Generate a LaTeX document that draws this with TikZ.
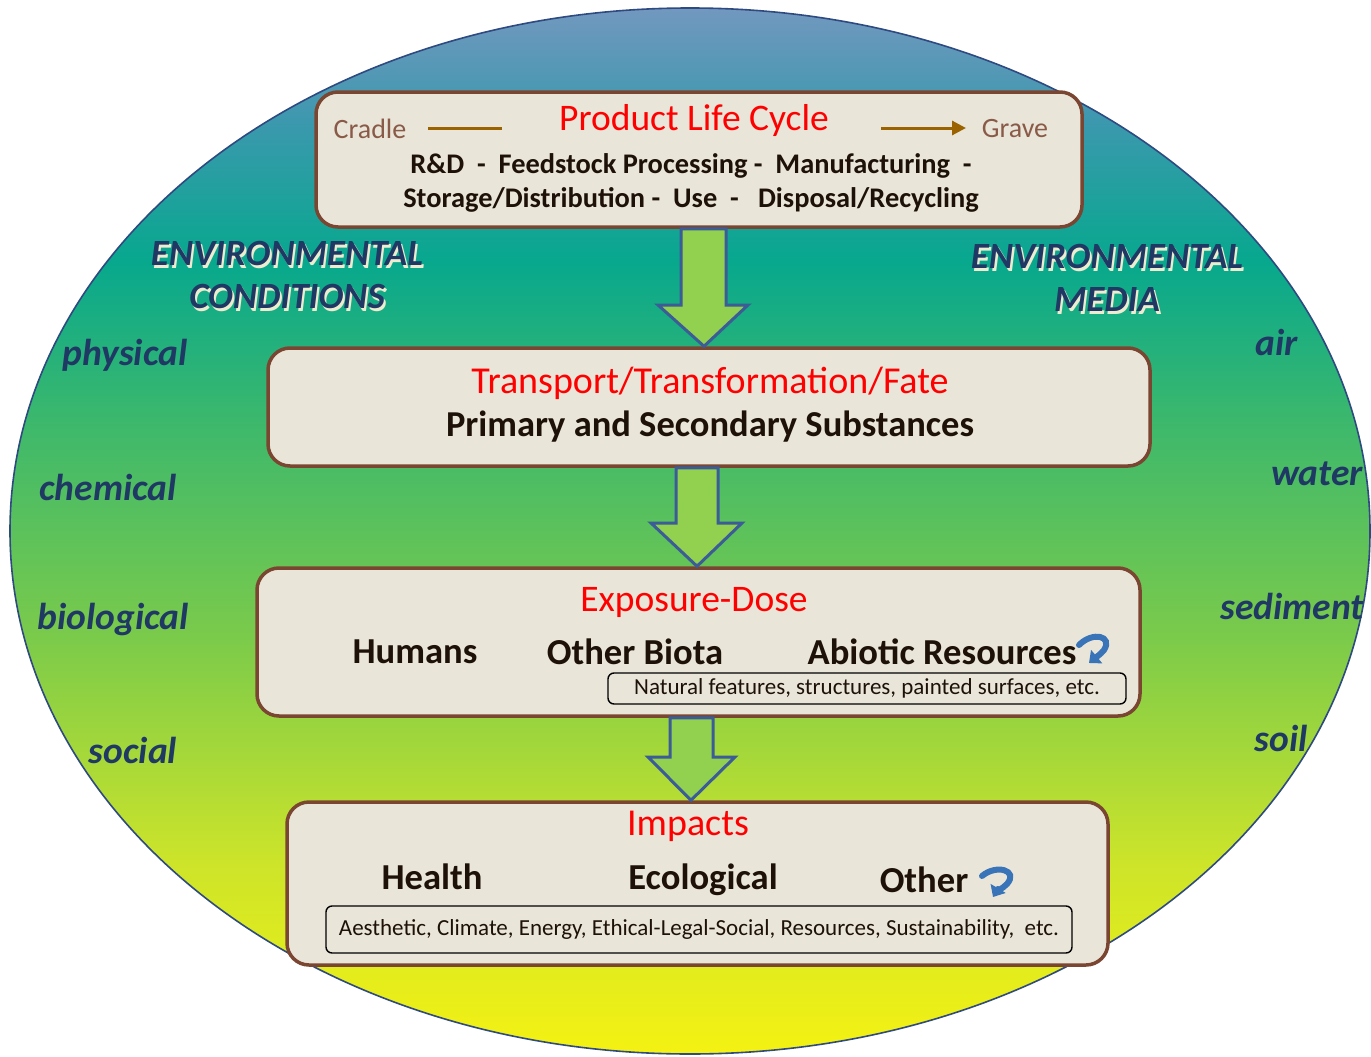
\documentclass[tikz,border=0pt]{standalone}
\usepackage{fontspec}
\setmainfont{Carlito}
\usetikzlibrary{arrows.meta,calc}

\definecolor{boxfill}{HTML}{E9E5D8}
\definecolor{boxbrown}{HTML}{7A4631}
\definecolor{arrowgreen}{HTML}{92D050}
\definecolor{arrowblue}{HTML}{3B5C96}
\definecolor{titlered}{HTML}{FF0000}
\definecolor{inkdark}{HTML}{1E1208}
\definecolor{endbrown}{HTML}{8A5A48}
\definecolor{cyclegold}{HTML}{9A6300}
\definecolor{navy}{HTML}{1F3864}
\definecolor{glow}{HTML}{EDEBD0}
\definecolor{curlblue}{HTML}{3A74B8}
\definecolor{rimblue}{HTML}{2E4A80}
\definecolor{gA}{HTML}{7698C0}
\definecolor{gB}{HTML}{3C98AE}
\definecolor{gC}{HTML}{07A88E}
\definecolor{gD}{HTML}{3CB86C}
\definecolor{gE}{HTML}{7CCB4A}
\definecolor{gF}{HTML}{CCE42A}
\definecolor{gG}{HTML}{F5F212}

\newcommand{\fs}[1]{\fontsize{#1}{#1}\selectfont}
% heading text with a pale offset copy underneath it
\newcommand{\glowtext}[1]{\makebox[0pt][l]{\hspace{2pt}\raisebox{-2.5pt}{\textcolor{glow}{#1}}}#1}

\tikzset{
  stage/.style={draw=boxbrown, line width=3.5pt, fill=boxfill, rounded corners=22pt},
  notebox/.style={draw=black, line width=1.4pt, rounded corners=6pt, fill=boxfill,
                  inner sep=0pt, font=\fs{23}, text=inkdark},
  bigarrow/.style={fill=arrowgreen, draw=arrowblue, line width=3pt, line join=miter},
  title/.style={text=titlered, font=\fs{37.5}},
  body/.style={text=inkdark, font=\bfseries\fs{28.4}},
  item/.style={text=inkdark, font=\bfseries\fs{36.6}},
  endlabel/.style={text=endbrown, font=\fs{28}},
  envhead/.style={text=navy, font=\bfseries\itshape\fs{37}},
  factor/.style={text=navy, font=\bfseries\itshape\fs{37.5}},
  curl/.style={draw=curlblue, line width=6pt, line cap=round,
               -{Triangle[width=17pt,length=10pt]}},
}

\begin{document}
\begin{tikzpicture}[x=1pt, y=-1pt]
\useasboundingbox (0,0) rectangle (1371,1057);

% graded background inside the ellipse
\begin{scope}
  \clip (690,531) ellipse [x radius=680, y radius=523];
  \shade[top color=gA, bottom color=gB] (0,0) rectangle (1371,121);
  \shade[top color=gB, bottom color=gC] (0,120) rectangle (1371,261);
  \shade[top color=gC, bottom color=gD] (0,260) rectangle (1371,421);
  \shade[top color=gD, bottom color=gE] (0,420) rectangle (1371,641);
  \shade[top color=gE, bottom color=gF] (0,640) rectangle (1371,861);
  \shade[top color=gF, bottom color=gG] (0,860) rectangle (1371,1057);
\end{scope}
\draw[rimblue, line width=1.6pt] (690,531) ellipse [x radius=680, y radius=523];

% stage boxes
\node[stage, minimum width=766pt, minimum height=135pt] (plc) at (699,159.5) {};
\node[stage, minimum width=882pt, minimum height=118pt] (fate) at (709,407) {};
\node[stage, minimum width=883pt, minimum height=148pt] (dose) at (698.5,642) {};
\node[stage, minimum width=821pt, minimum height=163pt] (imp) at (697.5,883.5) {};

% block arrows between the stages
\draw[bigarrow] (681,0 |- plc.south) -- (681,305) -- (658,305) -- (704,0 |- fate.north)
  -- (748,305) -- (726,305) -- (726,0 |- plc.south) -- cycle;
\draw[bigarrow] (676,0 |- fate.south) -- (676,523) -- (651,523) -- (697,0 |- dose.north)
  -- (742,523) -- (718,523) -- (718,0 |- fate.south) -- cycle;
\draw[bigarrow] (670,0 |- dose.south) -- (670,757) -- (648,757) -- (691,0 |- imp.north)
  -- (735,757) -- (713,757) -- (713,0 |- dose.south) -- cycle;

% product life cycle
\node[title] (plct) at (694,121) {Product Life Cycle};
\node[endlabel] (cradle) at (370,129) {Cradle};
\node[endlabel] (grave) at (1015,129) {Grave};
\coordinate (cl0) at (428,128);
\coordinate (cl1) at (502,128);
\coordinate (cr0) at (881,128);
\coordinate (cr1) at (966,128);
\draw[cyclegold, line width=3pt] (cl0) -- (cl1);
\draw[cyclegold, line width=3pt, -{Triangle[width=14pt,length=14pt]}] (cr0) -- (cr1);
\node[body] (ph1) at (691,166) {R\&D\ \ -\ \ Feedstock Processing -\ \ Manufacturing\ \ -};
\node[body] (ph2) at (691,200) {Storage/Distribution -\ \ Use\ \ -\ \ \ Disposal/Recycling};

% transport / fate
\node[title, font=\fs{38}] (fatet) at (710,383) {Transport/Transformation/Fate};
\node[text=inkdark, font=\bfseries\fs{36.5}] (fateb) at (710,427) {Primary and Secondary Substances};

% exposure-dose
\node[title] (doset) at (694,602) {Exposure-Dose};
\node[item] (humans) at (415,652) {Humans};
\node[item] (biota) at (635,652) {Other Biota};
\node[item] (abiotic) at (942,652) {Abiotic Resources};
\node[notebox, minimum width=518pt, minimum height=31pt] (abnote) at (867,688.5)
  {Natural features, structures, painted surfaces, etc.};
\draw[curl] (1079,645) .. controls (1093,631) and (1113,636) .. (1104,650)
  .. controls (1100,655) and (1095,658) .. (1089,663);

% impacts
\node[title, font=\fs{38}] (impt) at (688,826) {Impacts};
\node[item] (health) at (432,877) {Health};
\node[item] (ecol) at (703,880) {Ecological};
\node[item] (other) at (924,880) {Other};
\node[notebox, minimum width=746pt, minimum height=47pt] (imnote) at (699,929.5)
  {Aesthetic, Climate, Energy, Ethical-Legal-Social, Resources, Sustainability,\ \ etc.};
\draw[curl] (982,876) .. controls (996,864) and (1019,870) .. (1007,884)
  .. controls (1002,889) and (996,892) .. (993,897);

% environmental conditions (left) and media (right)
\node[envhead] (ec1) at (287,255) {\glowtext{ENVIRONMENTAL}};
\node[envhead] (ec2) at (287,298) {\glowtext{CONDITIONS}};
\node[envhead] (em1) at (1107,258) {\glowtext{ENVIRONMENTAL}};
\node[envhead] (em2) at (1107,301) {\glowtext{MEDIA}};

\node[factor] (phys) at (125,355) {physical};
\node[factor] (chem) at (108,487) {chemical};
\node[factor] (bio) at (113,619) {biological};
\node[factor] (soc) at (133,750) {social};

\node[factor] (air) at (1277,342) {air};
\node[factor] (water) at (1317,474) {water};
\node[factor] (sed) at (1292,606) {sediment};
\node[factor] (soil) at (1281,738) {soil};
\end{tikzpicture}
\end{document}
